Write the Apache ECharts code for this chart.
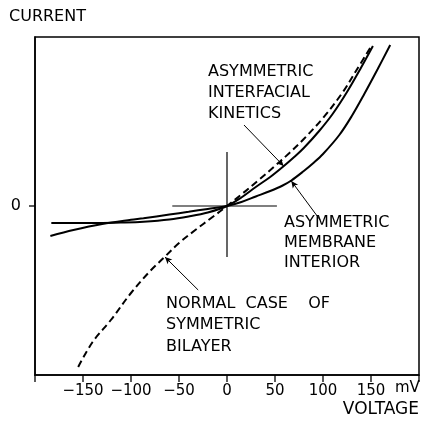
<!DOCTYPE html>
<html><head><meta charset="utf-8">
<script src="https://cdn.jsdelivr.net/npm/echarts@6/dist/echarts.min.js"></script>
<style>html,body{margin:0;padding:0;background:#fff}#c{width:422px;height:424px}</style>
</head><body><div id="c"></div>
<script>
// Axis ticks / labels
const xTickValues = [-200, -150, -100, -50, 0, 50, 100, 150, 200];
const xTickLabels = [-150, -100, -50, 0, 50, 100, 150];
const yTickLabels = [0];

// Normal case of symmetric bilayer (dashed)
const normalV = [-155, -140, -121, -100, -80, -65, -50, -33, -15, 0, 15, 33, 50, 65, 80, 100, 120, 135, 151];
const normalI = [-161, -136, -114, -87, -65, -51, -37, -24, -11, 0, 11.5, 26, 40, 53, 67, 88, 113, 136, 161];

// Asymmetric interfacial kinetics
const kineticsV = [-183, -160, -130, -110, -87, -60, -40, -20, 0, 15, 30, 45, 58, 70, 80, 96, 110, 125, 140, 152];
const kineticsI = [-17, -17, -17, -16.6, -15.7, -13.5, -10.5, -6.5, 0, 8.5, 19, 29, 39, 49, 58, 75, 92, 114, 139, 160];

// Asymmetric membrane interior
const membraneV = [-184, -160, -130, -100, -87, -60, -40, -20, 0, 15, 30, 45, 58, 67, 80, 90, 100, 117, 130, 143, 157, 170];
const membraneI = [-30, -24, -18, -13.8, -12.3, -8.6, -5.8, -2.9, 0, 4, 9.5, 15, 20.5, 25.5, 35, 43, 52, 71, 90, 112, 137, 161];

// Cross-hair at origin
const crossHV = [-57, 52];
const crossHI = [0, 0];
const crossVV = [0, 0];
const crossVI = [54, -51];

// Leader lines [from, to(arrow tip)]
const leaderKinetics = [[17.7, 81], [59, 40]];
const leaderMembrane = [[97, -14], [67, 25]];
const leaderNormal = [[-30, -84], [-64.6, -51]];

const FONT = 'DejaVu Sans';
const zip = (a, b) => a.map((v, i) => [v, b[i]]);
const blk = '#000';
const X_MIN = -200, X_MAX = 200, Y_MIN = -169, Y_MAX = 169;

const chart = echarts.init(document.getElementById('c'), null, {renderer: 'canvas'});

const curve = (name, v, i, dash) => ({
  name, type: 'line', data: zip(v, i), smooth: 0.35, showSymbol: false, symbol: 'none',
  lineStyle: {color: blk, width: 2, type: dash ? [7, 4] : 'solid'}, silent: true, z: 3
});
const thin = (v, i) => ({
  type: 'line', data: zip(v, i), showSymbol: false, symbol: 'none',
  lineStyle: {color: blk, width: 1.2}, silent: true, z: 2
});
const lead = (pts) => [{coord: pts[0]}, {coord: pts[1]}];

const textGraphics = [
  {type: 'text', left: 9, top: 9, style: {text: 'CURRENT', font: '16px "DejaVu Sans"', fill: blk}},
  {type: 'text', x: 208, y: 61, style: {text: 'ASYMMETRIC\nINTERFACIAL\nKINETICS', font: '16px "DejaVu Sans"', lineHeight: 21, fill: blk, verticalAlign: 'top'}},
  {type: 'text', x: 284, y: 213, style: {text: 'ASYMMETRIC\nMEMBRANE\nINTERIOR', font: '16px "DejaVu Sans"', lineHeight: 20, fill: blk, verticalAlign: 'top'}},
  {type: 'text', x: 166, y: 293, style: {text: 'NORMAL  CASE    OF\nSYMMETRIC\nBILAYER', font: '16px "DejaVu Sans"', lineHeight: 21.5, fill: blk, verticalAlign: 'top'}},
  {type: 'text', x: 395, y: 381, style: {text: 'mV', font: '15px "DejaVu Sans"', fill: blk, verticalAlign: 'top'}},
  {type: 'text', x: 419, y: 401, style: {text: 'VOLTAGE', font: '17px "DejaVu Sans"', fill: blk, align: 'right', verticalAlign: 'top'}}
];

const option = {
  animation: false,
  backgroundColor: '#fff',
  grid: {left: 35, top: 37, right: 3, bottom: 49, outerBoundsMode: 'none', show: true, borderColor: blk, borderWidth: 1.5, backgroundColor: 'transparent'},
  xAxis: {
    type: 'value', min: X_MIN, max: X_MAX, interval: 50,
    axisLine: {show: true, onZero: false, lineStyle: {color: blk, width: 1.5}},
    axisTick: {show: false},
    axisLabel: {formatter: v => xTickLabels.indexOf(v) < 0 ? '' : (v < 0 ? '\u2212' + Math.abs(v) : String(v)),
      color: blk, fontFamily: FONT, fontSize: 15, margin: 9},
    splitLine: {show: false}
  },
  yAxis: {
    type: 'value', min: Y_MIN, max: Y_MAX,
    axisLine: {show: true, onZero: false, lineStyle: {color: blk, width: 1.5}},
    axisTick: {show: false},
    axisLabel: {customValues: yTickLabels, color: blk, fontFamily: FONT, fontSize: 16, margin: 14},
    splitLine: {show: false}
  },
  series: [
    curve('Normal case of symmetric bilayer', normalV, normalI, true),
    curve('Asymmetric interfacial kinetics', kineticsV, kineticsI, false),
    curve('Asymmetric membrane interior', membraneV, membraneI, false),
    thin(crossHV, crossHI),
    thin(crossVV, crossVI),
    {
      type: 'line', data: [], silent: true,
      markLine: {
        silent: true, animation: false, symbol: ['none', 'arrow'], symbolSize: [5, 7],
        label: {show: false}, lineStyle: {color: blk, width: 1, type: 'solid'},
        data: [lead(leaderKinetics), lead(leaderMembrane), lead(leaderNormal)]
      }
    }
  ],
  graphic: textGraphics
};
chart.setOption(option);

// Axis tick marks, placed through the chart's own scales
const tickGraphics = [];
xTickValues.forEach(v => {
  const p = chart.convertToPixel({gridIndex: 0}, [v, Y_MIN]);
  if (p) tickGraphics.push({type: 'line', z: 100, silent: true,
    shape: {x1: p[0], y1: p[1], x2: p[0], y2: p[1] + 7}, style: {stroke: blk, lineWidth: 1.3}});
});
yTickLabels.forEach(v => {
  const p = chart.convertToPixel({gridIndex: 0}, [X_MIN, v]);
  if (p) tickGraphics.push({type: 'line', z: 100, silent: true,
    shape: {x1: p[0] - 6, y1: p[1], x2: p[0], y2: p[1]}, style: {stroke: blk, lineWidth: 1.3}});
});
chart.setOption({graphic: textGraphics.concat(tickGraphics)});
</script>
</body></html>
